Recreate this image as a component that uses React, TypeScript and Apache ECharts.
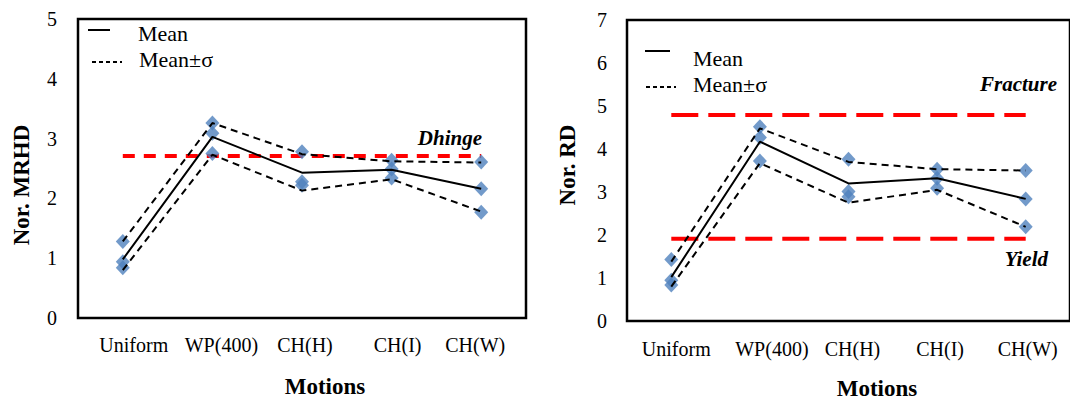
import React, { useEffect, useRef } from "react";
import * as echarts from "echarts";

const categories = ["Uniform", "WP(400)", "CH(H)", "CH(I)", "CH(W)"];

// Left chart: Nor. MRHD
const mrhdMean = [0.98, 3.03, 2.43, 2.48, 2.16];
const mrhdUpper = [1.28, 3.26, 2.74, 2.62, 2.6];
const mrhdLower = [0.8, 2.73, 2.13, 2.32, 1.78];
const mrhdPtsHigh = [1.28, 3.26, 2.78, 2.64, 2.61];
const mrhdPtsMid = [0.94, 3.09, 2.28, 2.49, 2.16];
const mrhdPtsLow = [0.84, 2.75, 2.22, 2.34, 1.77];
const dhinge = 2.71;

// Right chart: Nor. RD
const rdMean = [1.02, 4.17, 3.2, 3.32, 2.84];
const rdUpper = [1.38, 4.48, 3.7, 3.53, 3.5];
const rdLower = [0.8, 3.67, 2.75, 3.05, 2.19];
const rdPtsHigh = [1.43, 4.52, 3.76, 3.53, 3.5];
const rdPtsMid = [0.95, 4.27, 3.01, 3.32, 2.84];
const rdPtsLow = [0.84, 3.72, 2.89, 3.09, 2.19];
const fracture = 4.79;
const yieldLevel = 1.91;

const leftTicks = { min: 0, max: 5, interval: 1 };
const rightTicks = { min: 0, max: 7, interval: 1 };

const FONT = "Liberation Serif";

// small per-label nudges (dx right, dy up) to mimic the reference's label placement
const leftLabelNudge = [
  [11, 0],
  [9, 0],
  [3, 0],
  [6, 3],
  [-6, 0],
];
const rightLabelNudge = [
  [5, 0],
  [12, 0],
  [4, 0],
  [3, 2],
  [2, 0],
];

export default function App() {
  const ref = useRef<HTMLDivElement>(null);

  useEffect(() => {
    document.body.style.margin = "0";
    if (!ref.current) return;
    const chart = echarts.init(ref.current, undefined, { renderer: "svg" });

    const richFor = (nudges: number[][]) => {
      const rich: Record<string, any> = {};
      nudges.forEach(([dx, dy], i) => {
        rich["c" + i] = {
          fontFamily: FONT,
          fontSize: 20,
          color: "#000",
          padding: [0, dx < 0 ? -2 * dx : 0, 2 * dy, dx > 0 ? 2 * dx : 0],
        };
      });
      return rich;
    };

    const xLabel = (margin: number, nudges: number[][]) => ({
      fontFamily: FONT,
      fontSize: 20,
      color: "#000",
      margin,
      interval: 0,
      formatter: (v: string, idx: number) => `{c${idx}|${v}}`,
      rich: richFor(nudges),
    });

    const yLabel = (margin: number) => ({
      fontFamily: FONT,
      fontSize: 20,
      color: "#000",
      margin,
    });

    const pts = (data: number[], xi: number, name: string) => ({
      type: "scatter",
      name,
      xAxisIndex: xi,
      yAxisIndex: xi,
      data,
      symbol: "diamond",
      symbolSize: [14, 15],
      itemStyle: { color: "#4F81BD" },
      z: 2,
      silent: true,
    });

    const line = (data: number[], xi: number, dashed: boolean, name: string) => ({
      type: "line",
      name,
      xAxisIndex: xi,
      yAxisIndex: xi,
      data,
      showSymbol: false,
      symbol: "none",
      lineStyle: { color: "#000", width: 2, type: dashed ? [7, 5] : "solid" },
      z: 3,
      silent: true,
    });

    const level = (v: number, xi: number, dash: number[], name: string) => ({
      type: "line",
      name,
      xAxisIndex: xi,
      yAxisIndex: xi,
      data: categories.map(() => v),
      showSymbol: false,
      symbol: "none",
      lineStyle: { color: "#FF0000", width: 4, type: dash },
      z: 1,
      silent: true,
    });

    const txt = (
      text: string,
      x: number,
      y: number,
      opts: { size?: number; weight?: string; italic?: boolean; align?: string; rotation?: number }
    ) => ({
      type: "text",
      x,
      y,
      rotation: opts.rotation || 0,
      silent: true,
      style: {
        text,
        fill: "#000",
        fontFamily: FONT,
        fontSize: opts.size || 22,
        fontWeight: opts.weight || "normal",
        fontStyle: opts.italic ? "italic" : "normal",
        align: opts.align || "left",
        verticalAlign: "middle",
      },
    });

    const gline = (x1: number, y1: number, x2: number, y2: number, dash?: number[]) => ({
      type: "line",
      silent: true,
      shape: { x1, y1, x2, y2 },
      style: { stroke: "#000", lineWidth: 2, lineDash: dash || null },
    });

    chart.setOption({
      animation: false,
      backgroundColor: "#fff",
      textStyle: { fontFamily: FONT },
      grid: [
        { left: 78, top: 19, width: 448, height: 299, show: true, borderColor: "#000", borderWidth: 2.5, backgroundColor: "transparent" },
        { left: 627, top: 20, width: 447, height: 301, show: true, borderColor: "#000", borderWidth: 2.5, backgroundColor: "transparent" },
      ],
      xAxis: [0, 1].map((i) => ({
        type: "category",
        gridIndex: i,
        data: categories,
        boundaryGap: true,
        axisLine: { show: false },
        axisTick: { show: false },
        splitLine: { show: false },
        axisLabel: xLabel(i === 0 ? 17 : 18, i === 0 ? leftLabelNudge : rightLabelNudge),
      })),
      yAxis: [
        {
          type: "value",
          gridIndex: 0,
          ...leftTicks,
          axisLine: { show: false },
          axisTick: { show: false },
          splitLine: { show: false },
          axisLabel: yLabel(21),
        },
        {
          type: "value",
          gridIndex: 1,
          ...rightTicks,
          axisLine: { show: false },
          axisTick: { show: false },
          splitLine: { show: false },
          axisLabel: yLabel(20),
        },
      ],
      series: [
        level(dhinge, 0, [12, 9], "Dhinge"),
        pts(mrhdPtsHigh, 0, "pts-high"),
        pts(mrhdPtsMid, 0, "pts-mid"),
        pts(mrhdPtsLow, 0, "pts-low"),
        line(mrhdUpper, 0, true, "Mean+σ"),
        line(mrhdLower, 0, true, "Mean-σ"),
        line(mrhdMean, 0, false, "Mean"),

        level(fracture, 1, [27, 10], "Fracture"),
        level(yieldLevel, 1, [27, 10], "Yield"),
        pts(rdPtsHigh, 1, "pts-high"),
        pts(rdPtsMid, 1, "pts-mid"),
        pts(rdPtsLow, 1, "pts-low"),
        line(rdUpper, 1, true, "Mean+σ"),
        line(rdLower, 1, true, "Mean-σ"),
        line(rdMean, 1, false, "Mean"),
      ],
      graphic: [
        // left legend
        gline(88, 30, 110, 30),
        txt("Mean", 138, 33, { size: 22 }),
        gline(92, 62, 122, 62, [4, 3]),
        txt("Mean±σ", 139, 59, { size: 22 }),
        // right legend
        gline(645, 51, 670, 51),
        txt("Mean", 693, 58, { size: 22 }),
        gline(646, 87, 676, 87, [4, 3]),
        txt("Mean±σ", 693, 84, { size: 22 }),
        // annotations
        txt("Dhinge", 482, 138, { size: 21, weight: "bold", italic: true, align: "right" }),
        txt("Fracture", 1057, 84, { size: 21, weight: "bold", italic: true, align: "right" }),
        txt("Yield", 1048, 259, { size: 21, weight: "bold", italic: true, align: "right" }),
        // axis titles
        txt("Nor. MRHD", 21, 185, { size: 23, weight: "bold", align: "center", rotation: Math.PI / 2 }),
        txt("Nor. RD", 567, 165, { size: 23, weight: "bold", align: "center", rotation: Math.PI / 2 }),
        txt("Motions", 325, 386, { size: 23, weight: "bold", align: "center" }),
        txt("Motions", 877, 388, { size: 23, weight: "bold", align: "center" }),
      ],
    });

    return () => chart.dispose();
  }, []);

  return <div ref={ref} style={{ width: 1070, height: 400 }} />;
}
